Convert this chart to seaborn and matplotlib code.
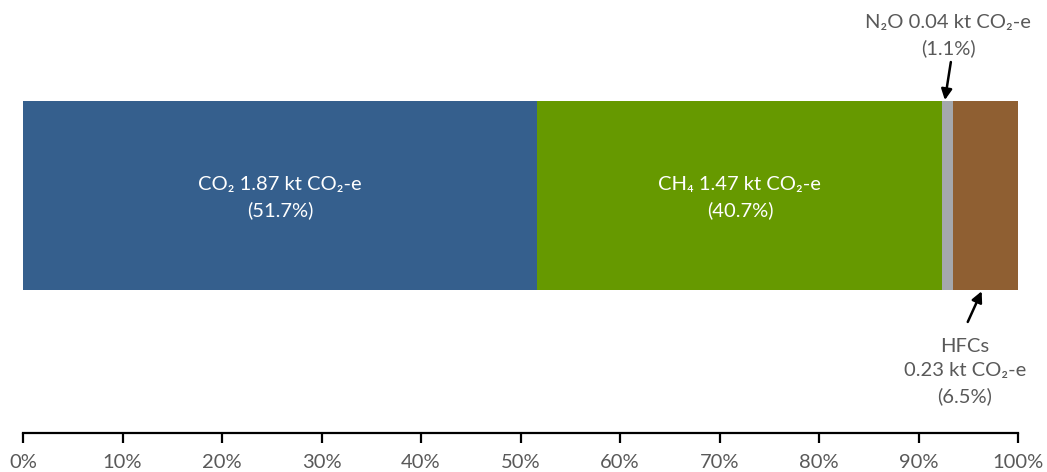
import numpy as np
import pandas as pd
import matplotlib
matplotlib.use('Agg')
import matplotlib.pyplot as plt
import seaborn as sns

# emissions by gas (share of total, %)
gases = ['CO2', 'CH4', 'N2O', 'HFCs']
shares = [51.7, 40.7, 1.1, 6.5]
amounts = [1.87, 1.47, 0.04, 0.23]  # kt CO2-e
colors = ['#355F8D', '#669900', '#A5A8AD', '#8F5F32']
labels = ['CO\u2082 1.87 kt CO\u2082-e\n(51.7%)',
          'CH\u2084 1.47 kt CO\u2082-e\n(40.7%)',
          'N\u2082O 0.04 kt CO\u2082-e\n(1.1%)',
          'HFCs\n0.23 kt CO\u2082-e\n(6.5%)']
ticks = list(range(0, 101, 10))

sns.set_style('white')
plt.rcParams['font.family'] = ['Lato', 'DejaVu Sans']
grey = '#595959'
fs = 14.5
lsp = 1.55

fig = plt.figure(figsize=(10.47, 4.72), dpi=100)
ax = fig.add_axes([23 / 1047, 1 - 433 / 472, 995 / 1047, 433 / 472])

df = pd.DataFrame({'gas': gases, 'share': shares})
df['cum'] = df['share'].cumsum()
df['left'] = df['cum'] - df['share']

# stacked bar: overlay cumulative bars, longest first
for i in reversed(range(len(df))):
    sns.barplot(x=[df['cum'][i]], y=[0], orient='h', color=colors[i],
                width=0.8, saturation=1, linewidth=0, ax=ax)

ax.set_ylim(-1.005, 0.8275)
ax.set_xlim(0, 100)

# labels inside the two big segments
for i in range(2):
    cx = df['left'][i] + df['share'][i] / 2
    ax.text(cx, -0.01, labels[i], ha='center', va='center', color='white',
            fontsize=fs, linespacing=lsp)

# N2O callout above
n2o_x = df['left'][2] + df['share'][2] / 2
ax.text(92.96, 0.675, labels[2], ha='center', va='center', color=grey,
        fontsize=fs, linespacing=lsp)
ax.annotate('', xy=(n2o_x - 0.3, 0.404), xytext=(n2o_x + 0.3, 0.565),
            arrowprops=dict(arrowstyle='-|>', color='black', lw=1.8,
                            mutation_scale=16, shrinkA=0, shrinkB=0))

# HFCs callout below
hfc_x = df['left'][3] + df['share'][3] / 2
ax.text(94.67, -0.745, labels[3], ha='center', va='center', color=grey,
        fontsize=fs, linespacing=lsp)
ax.annotate('', xy=(hfc_x - 0.4, -0.405), xytext=(hfc_x - 1.8, -0.535),
            arrowprops=dict(arrowstyle='-|>', color='black', lw=1.8,
                            mutation_scale=16, shrinkA=0, shrinkB=0))

for s in ['top', 'right', 'left']:
    ax.spines[s].set_visible(False)
ax.spines['bottom'].set_color('black')
ax.spines['bottom'].set_linewidth(1.6)
ax.set_xticks(ticks)
ax.set_xticklabels([f'{t}%' for t in ticks], color=grey, fontsize=fs)
ax.tick_params(axis='x', direction='out', length=7, width=1.6, color='black', pad=8,
               bottom=True)
ax.set_yticks([])
ax.set_xlabel('')
ax.set_ylabel('')
ax.patch.set_alpha(0)

fig.savefig('out.png', dpi=100)
